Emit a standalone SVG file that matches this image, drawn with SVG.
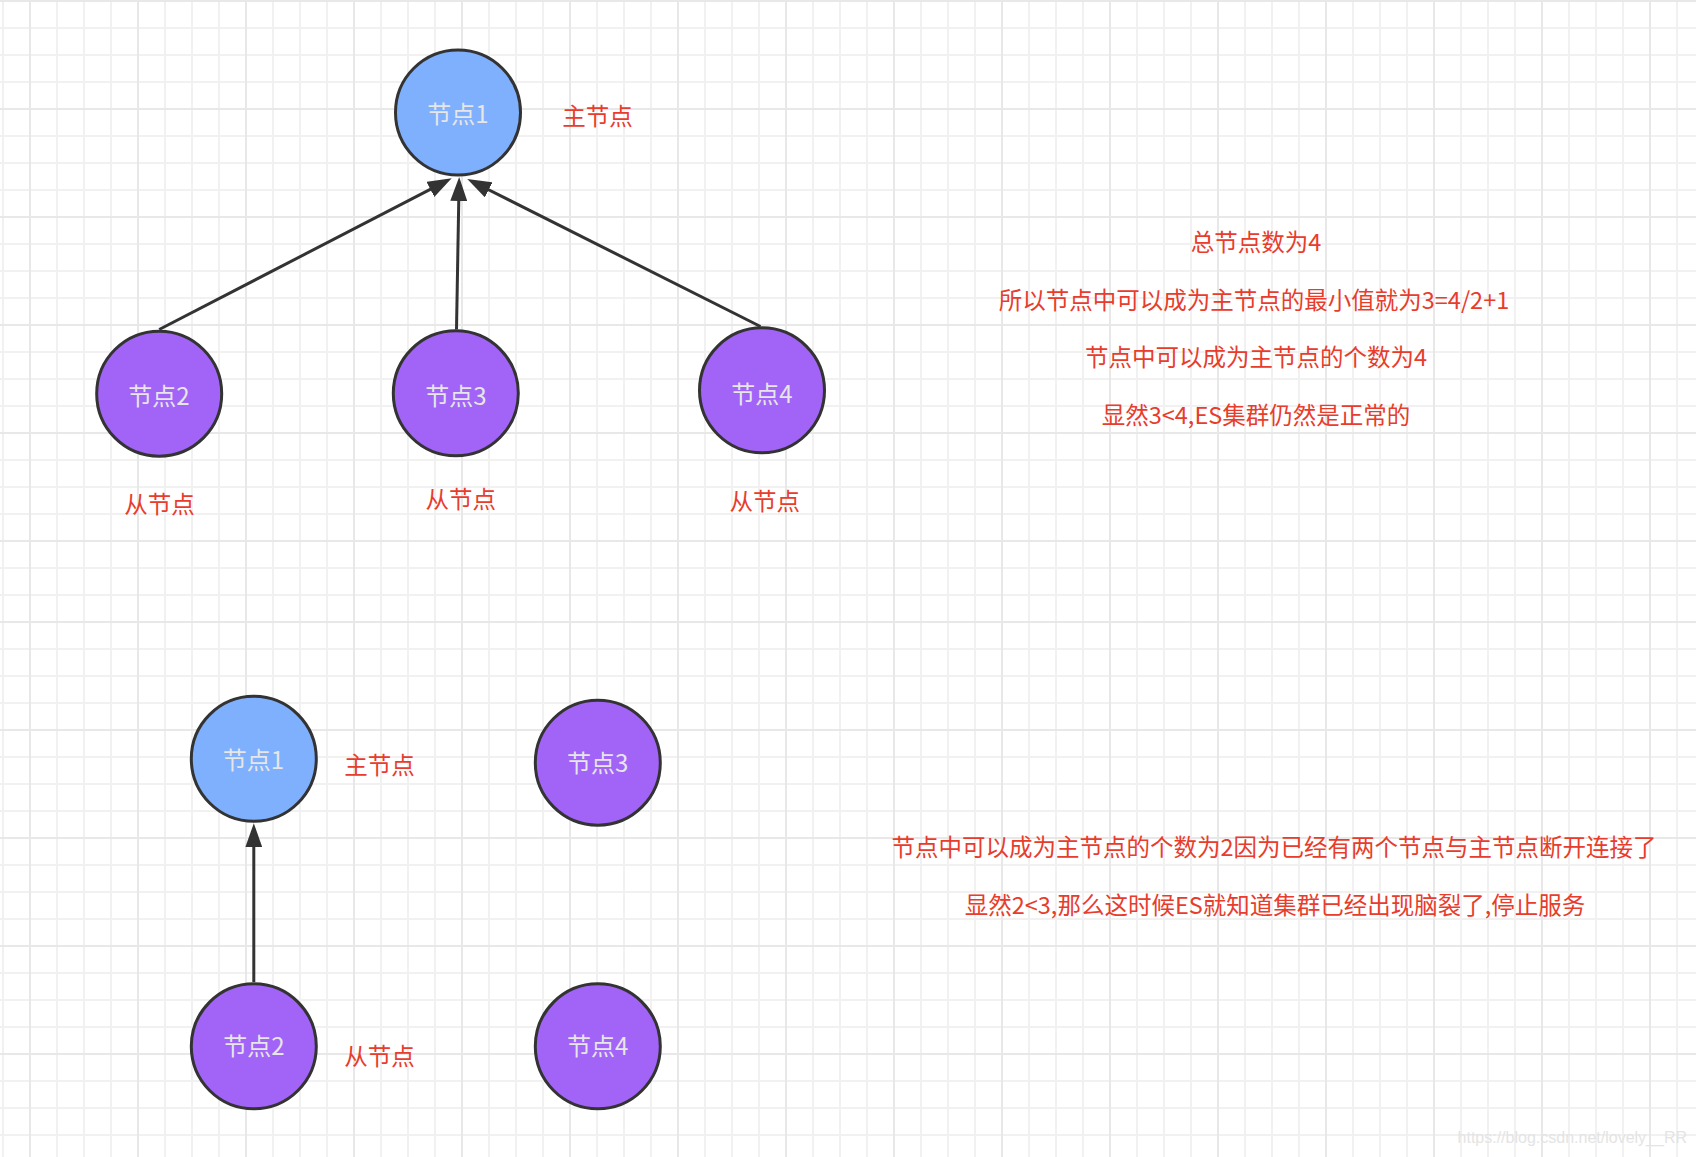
<svg xmlns="http://www.w3.org/2000/svg" width="1696" height="1157" viewBox="0 0 1696 1157">
<style>
.node circle{stroke:#333333;stroke-width:3}
.master circle{fill:#7fb0fd}
.slave circle{fill:#a263f7}
.node text{font-family:"Noto Sans CJK SC",sans-serif;font-size:24px;fill:#e6e6e6;text-anchor:middle}
.lbl{font-family:"Noto Sans CJK SC",sans-serif;font-size:23.5px;fill:#e83c2c;text-anchor:middle}
.edge{stroke:#333333;stroke-width:3;fill:none;marker-end:url(#arr)}
</style>
<defs>
<pattern id="minor" x="2" y="0" width="27" height="27" patternUnits="userSpaceOnUse"><path d="M1 0V27M0 1H27" stroke="#f1f1f1" stroke-width="2"/></pattern>
<pattern id="majV" x="29" y="0" width="108" height="27" patternUnits="userSpaceOnUse"><path d="M1 0V27" stroke="#e8e8e8" stroke-width="2"/></pattern>
<pattern id="majH1" x="0" y="0" width="27" height="108" patternUnits="userSpaceOnUse"><path d="M0 1H27" stroke="#e8e8e8" stroke-width="2"/></pattern>
<pattern id="majH2" x="0" y="621" width="27" height="108" patternUnits="userSpaceOnUse"><path d="M0 1H27" stroke="#e8e8e8" stroke-width="2"/></pattern>
<marker id="arr" markerUnits="userSpaceOnUse" markerWidth="24" markerHeight="17" refX="14" refY="8.5" orient="auto"><path d="M0 0L24 8.5L0 17z" fill="#333333"/></marker>
</defs>
<g id="grid">
<rect width="1696" height="1157" fill="#ffffff"/>
<rect width="1696" height="1157" fill="url(#minor)"/>
<rect width="1696" height="1157" fill="url(#majV)"/>
<rect width="1696" height="600" fill="url(#majH1)"/>
<rect y="600" width="1696" height="557" fill="url(#majH2)"/>
</g>
<g id="connectors">
<line class="edge" x1="159.2" y1="329.5" x2="442.8" y2="182.9"/>
<line class="edge" x1="456.5" y1="329.5" x2="459.0" y2="187"/>
<line class="edge" x1="760.5" y1="326.5" x2="476.2" y2="183.5"/>
<line class="edge" x1="253.8" y1="982" x2="253.8" y2="833.3"/>
</g>
<g id="top-node1" class="node master"><circle cx="458" cy="112.5" r="62.5"/><text x="458" y="122.5">节点1</text></g>
<g id="top-node2" class="node slave"><circle cx="159.2" cy="393.7" r="62.5"/><text x="159" y="405">节点2</text></g>
<g id="top-node3" class="node slave"><circle cx="455.8" cy="393.3" r="62.5"/><text x="456" y="405">节点3</text></g>
<g id="top-node4" class="node slave"><circle cx="762" cy="390.3" r="62.5"/><text x="762" y="402.5">节点4</text></g>
<g id="bottom-node1" class="node master"><circle cx="253.8" cy="758.8" r="62.5"/><text x="253.5" y="769">节点1</text></g>
<g id="bottom-node3" class="node slave"><circle cx="597.8" cy="762.7" r="62.5"/><text x="597.7" y="771.8">节点3</text></g>
<g id="bottom-node2" class="node slave"><circle cx="253.8" cy="1046.3" r="62.5"/><text x="254" y="1055.2">节点2</text></g>
<g id="bottom-node4" class="node slave"><circle cx="597.8" cy="1046.3" r="62.5"/><text x="597.7" y="1055.2">节点4</text></g>
<g id="labels">
<text class="lbl" x="597.5" y="124.5">主节点</text>
<text class="lbl" x="159.5" y="512.5">从节点</text>
<text class="lbl" x="460.8" y="507.5">从节点</text>
<text class="lbl" x="764.7" y="509.5">从节点</text>
<text class="lbl" x="379.5" y="773.5">主节点</text>
<text class="lbl" x="379.5" y="1064.5">从节点</text>
<text class="lbl" x="1256" y="250.5">总节点数为4</text>
<text class="lbl" x="1254" y="308.5">所以节点中可以成为主节点的最小值就为3=4/2+1</text>
<text class="lbl" x="1256" y="366">节点中可以成为主节点的个数为4</text>
<text class="lbl" x="1256" y="423.5">显然3&lt;4,ES集群仍然是正常的</text>
<text class="lbl" x="1274" y="855.5">节点中可以成为主节点的个数为2因为已经有两个节点与主节点断开连接了</text>
<text class="lbl" x="1275" y="913.5">显然2&lt;3,那么这时候ES就知道集群已经出现脑裂了,停止服务</text>
</g>
<text x="1687" y="1143" text-anchor="end" font-family="Liberation Sans, Arial, sans-serif" font-size="16" fill="#e4e4e4">https://blog.csdn.net/lovely__RR</text>
</svg>
